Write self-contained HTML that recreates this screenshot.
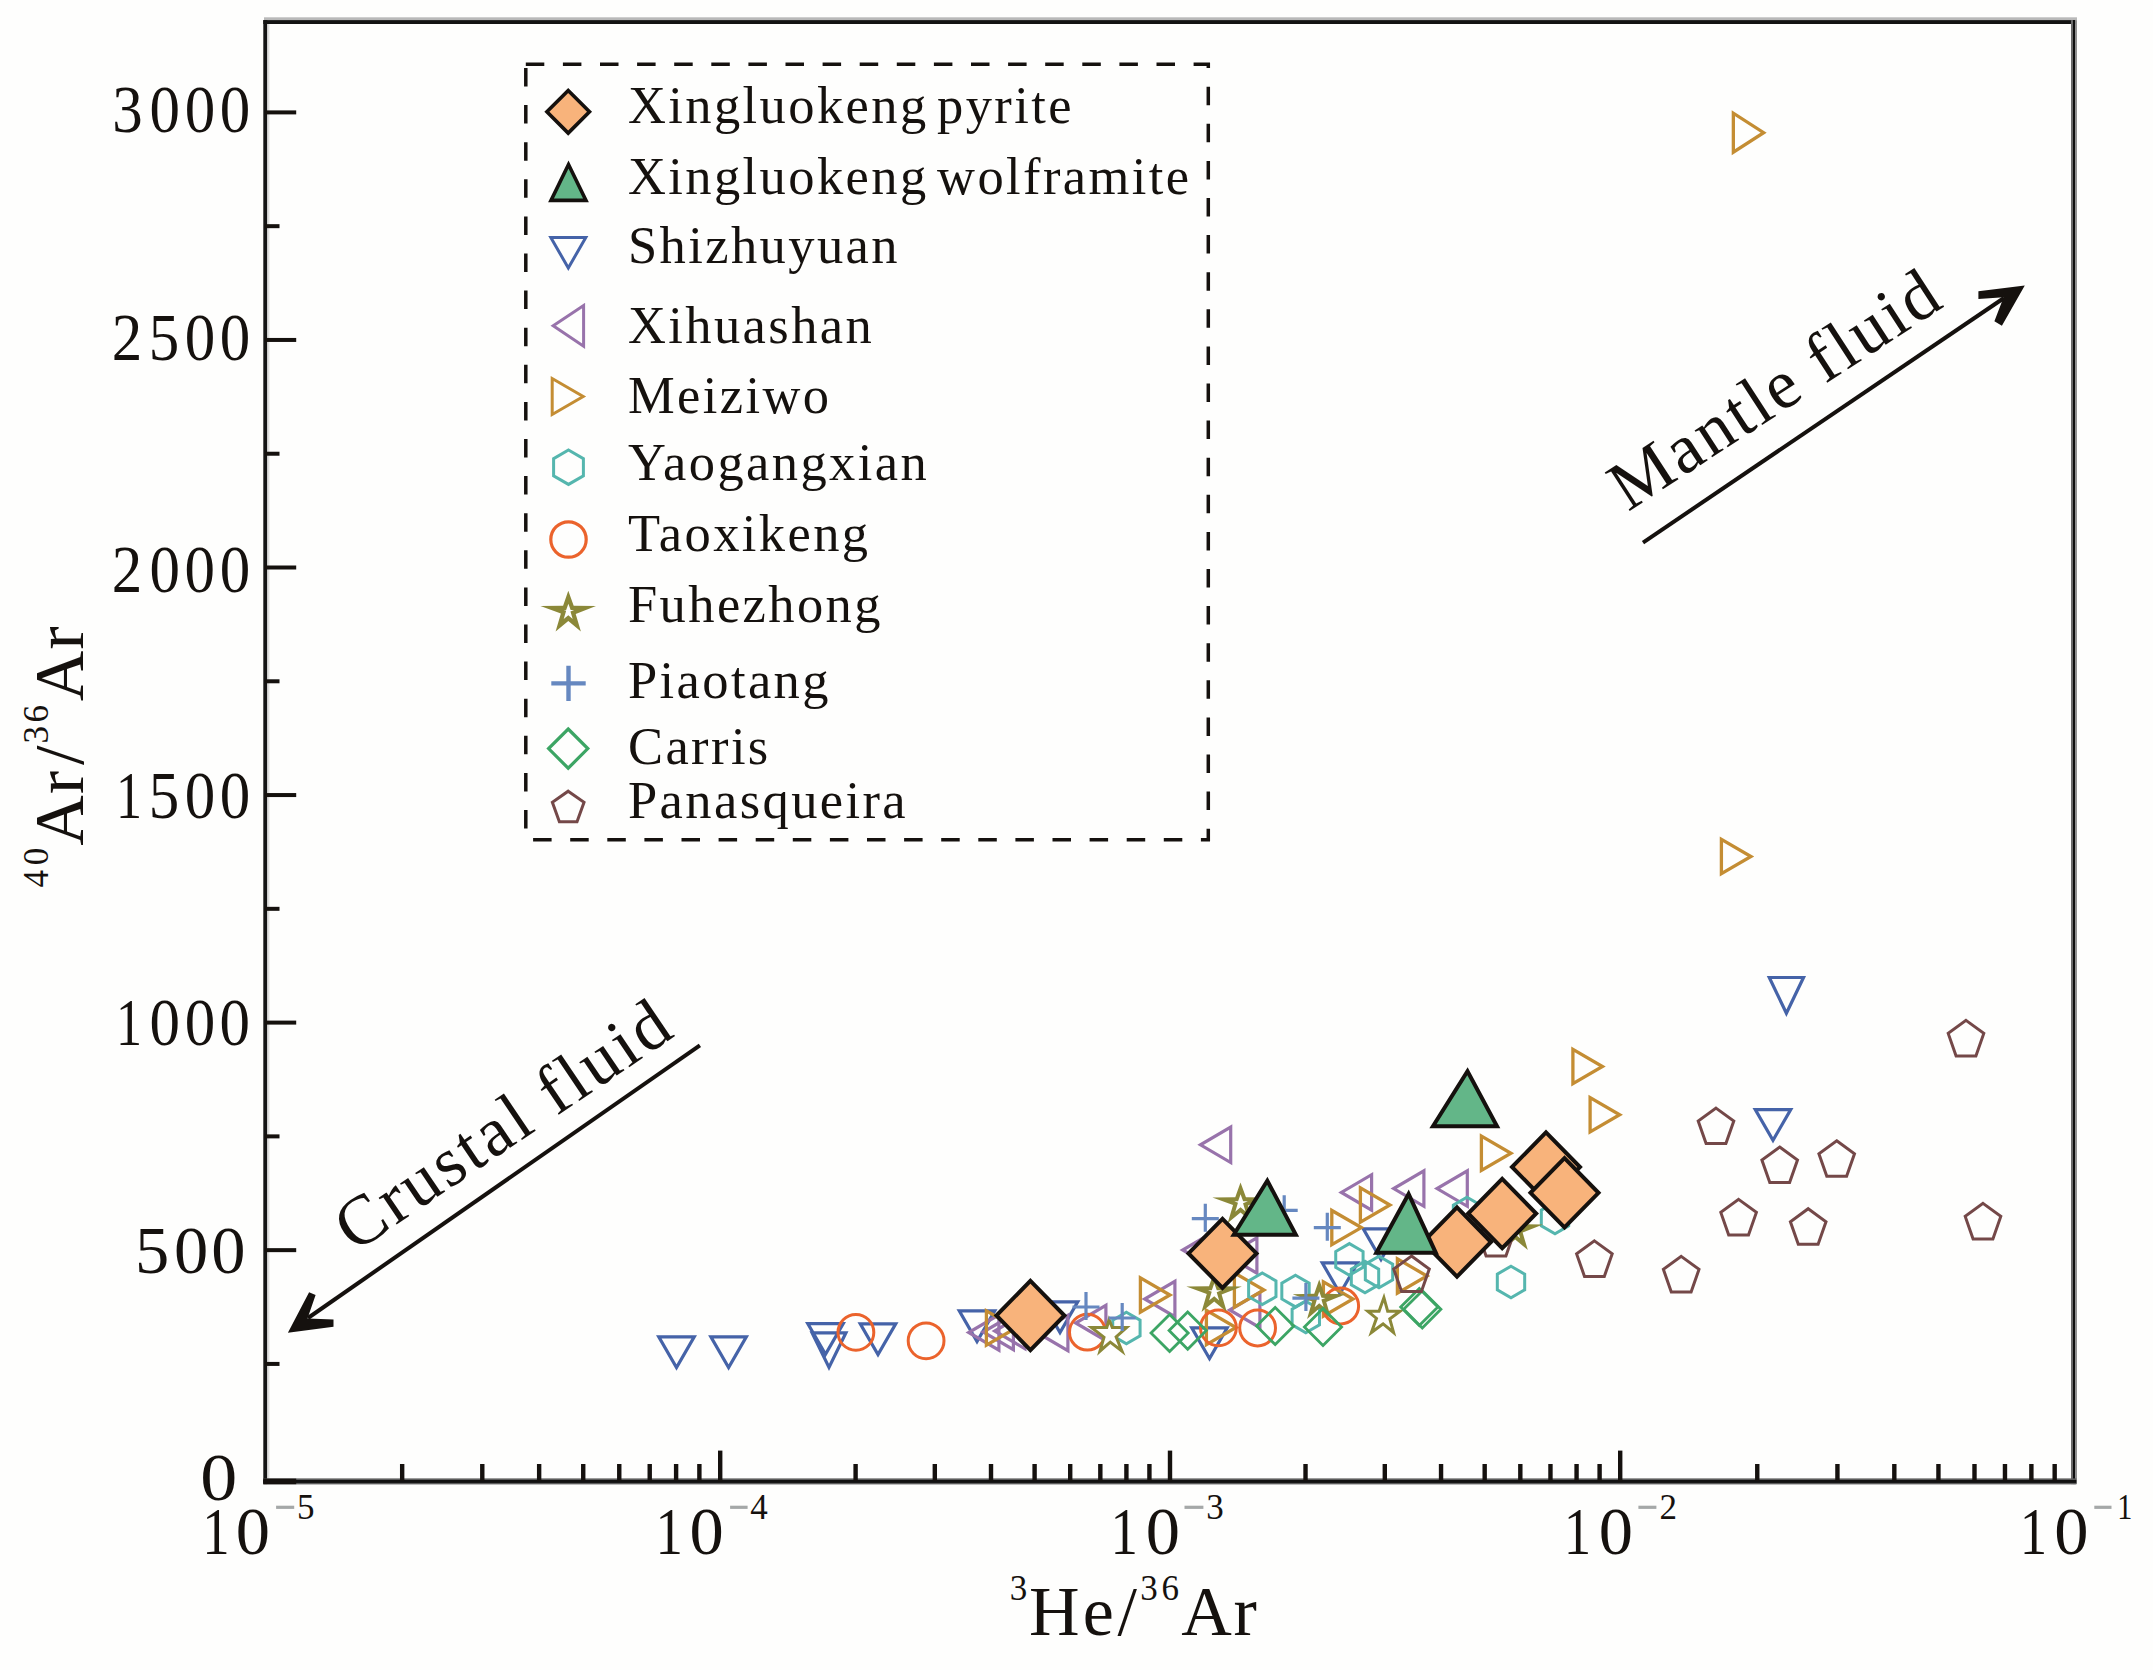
<!DOCTYPE html>
<html><head><meta charset="utf-8"><title>40Ar/36Ar vs 3He/36Ar</title>
<style>html,body{margin:0;padding:0;background:#fefefd;}svg{display:block;}text{font-family:'Liberation Serif', 'Times New Roman', serif;fill:#15110e;}</style></head><body>
<svg xmlns="http://www.w3.org/2000/svg" width="2153" height="1670" viewBox="0 0 2153 1670">
<rect width="2153" height="1670" fill="#fefefd"/>
<g stroke-linejoin="miter" stroke-miterlimit="10">
<polygon points="658.77,1336.85 694.23,1336.85 676.5,1367.55" fill="none" stroke="#4563a8" stroke-width="3.2"/>
<polygon points="710.87,1336.85 746.33,1336.85 728.6,1367.55" fill="none" stroke="#4563a8" stroke-width="3.2"/>
<polygon points="807.77,1323.55 843.23,1323.55 825.5,1354.25" fill="none" stroke="#4563a8" stroke-width="3.2"/>
<polygon points="812.07,1332.8 845.93,1332.8 829,1367.36" fill="none" stroke="#4563a8" stroke-width="3.2"/>
<polygon points="860.27,1323.85 895.73,1323.85 878,1354.55" fill="none" stroke="#4563a8" stroke-width="3.2"/>
<polygon points="959.27,1310.85 994.73,1310.85 977,1341.55" fill="none" stroke="#4563a8" stroke-width="3.2"/>
<polygon points="1042.27,1301.85 1077.73,1301.85 1060,1332.55" fill="none" stroke="#4563a8" stroke-width="3.2"/>
<polygon points="1191.77,1327.85 1227.23,1327.85 1209.5,1358.55" fill="none" stroke="#4563a8" stroke-width="3.2"/>
<polygon points="1322.27,1262.85 1357.73,1262.85 1340,1293.55" fill="none" stroke="#4563a8" stroke-width="3.2"/>
<polygon points="1363.27,1228.85 1398.73,1228.85 1381,1259.55" fill="none" stroke="#4563a8" stroke-width="3.2"/>
<polygon points="1755.27,1109.55 1790.73,1109.55 1773,1140.25" fill="none" stroke="#4563a8" stroke-width="3.2"/>
<polygon points="1769.29,977.5 1803.51,977.5 1786.4,1013.2" fill="none" stroke="#4563a8" stroke-width="3.2"/>
<polygon points="998.9,1314.79 998.9,1350.21 968.67,1332.5" fill="none" stroke="#9873ab" stroke-width="3.2"/>
<polygon points="1013.4,1314.29 1013.4,1349.71 983.17,1332" fill="none" stroke="#9873ab" stroke-width="3.2"/>
<polygon points="1024.9,1313.29 1024.9,1348.71 994.67,1331" fill="none" stroke="#9873ab" stroke-width="3.2"/>
<polygon points="1067.9,1315.29 1067.9,1350.71 1037.67,1333" fill="none" stroke="#9873ab" stroke-width="3.2"/>
<polygon points="1105.9,1305.29 1105.9,1340.71 1075.67,1323" fill="none" stroke="#9873ab" stroke-width="3.2"/>
<polygon points="1174.9,1281.29 1174.9,1316.71 1144.67,1299" fill="none" stroke="#9873ab" stroke-width="3.2"/>
<polygon points="1212.9,1232.29 1212.9,1267.71 1182.67,1250" fill="none" stroke="#9873ab" stroke-width="3.2"/>
<polygon points="1256.9,1237.79 1256.9,1273.21 1226.67,1255.5" fill="none" stroke="#9873ab" stroke-width="3.2"/>
<polygon points="1259.9,1292.29 1259.9,1327.71 1229.67,1310" fill="none" stroke="#9873ab" stroke-width="3.2"/>
<polygon points="1230.7,1127.09 1230.7,1162.51 1200.47,1144.8" fill="none" stroke="#9873ab" stroke-width="3.2"/>
<polygon points="1371.6,1174.69 1371.6,1210.11 1341.37,1192.4" fill="none" stroke="#9873ab" stroke-width="3.2"/>
<polygon points="1423.9,1170.89 1423.9,1206.31 1393.67,1188.6" fill="none" stroke="#9873ab" stroke-width="3.2"/>
<polygon points="1467.3,1170.89 1467.3,1206.31 1437.07,1188.6" fill="none" stroke="#9873ab" stroke-width="3.2"/>
<polygon points="986.4,1310.86 986.4,1345.14 1015.96,1328" fill="none" stroke="#c48d33" stroke-width="3.3"/>
<polygon points="1140.4,1277.86 1140.4,1312.14 1169.96,1295" fill="none" stroke="#c48d33" stroke-width="3.3"/>
<polygon points="1206.4,1310.36 1206.4,1344.64 1235.96,1327.5" fill="none" stroke="#c48d33" stroke-width="3.3"/>
<polygon points="1234.4,1272.86 1234.4,1307.14 1263.96,1290" fill="none" stroke="#c48d33" stroke-width="3.3"/>
<polygon points="1323.4,1281.86 1323.4,1316.14 1352.96,1299" fill="none" stroke="#c48d33" stroke-width="3.3"/>
<polygon points="1331.8,1210.46 1331.8,1244.74 1361.36,1227.6" fill="none" stroke="#c48d33" stroke-width="3.3"/>
<polygon points="1360.4,1187.86 1360.4,1222.14 1389.96,1205" fill="none" stroke="#c48d33" stroke-width="3.3"/>
<polygon points="1397.4,1258.86 1397.4,1293.14 1426.96,1276" fill="none" stroke="#c48d33" stroke-width="3.3"/>
<polygon points="1481.4,1136.16 1481.4,1170.44 1510.96,1153.3" fill="none" stroke="#c48d33" stroke-width="3.3"/>
<polygon points="1572.9,1049.36 1572.9,1083.64 1602.46,1066.5" fill="none" stroke="#c48d33" stroke-width="3.3"/>
<polygon points="1590.1,1097.56 1590.1,1131.84 1619.66,1114.7" fill="none" stroke="#c48d33" stroke-width="3.3"/>
<polygon points="1721.4,839.36 1721.4,873.64 1750.96,856.5" fill="none" stroke="#c48d33" stroke-width="3.3"/>
<polygon points="1733.35,113.22 1733.35,152.18 1763.65,132.7" fill="none" stroke="#c48d33" stroke-width="3.3"/>
<polygon points="1126.4,1312.2 1140.08,1320.1 1140.08,1335.9 1126.4,1343.8 1112.72,1335.9 1112.72,1320.1" fill="none" stroke="#55b6ae" stroke-width="3"/>
<polygon points="1262.3,1273 1275.98,1280.9 1275.98,1296.7 1262.3,1304.6 1248.62,1296.7 1248.62,1280.9" fill="none" stroke="#55b6ae" stroke-width="3"/>
<polygon points="1295.5,1275.3 1309.18,1283.2 1309.18,1299 1295.5,1306.9 1281.82,1299 1281.82,1283.2" fill="none" stroke="#55b6ae" stroke-width="3"/>
<polygon points="1305.8,1301.2 1319.48,1309.1 1319.48,1324.9 1305.8,1332.8 1292.12,1324.9 1292.12,1309.1" fill="none" stroke="#55b6ae" stroke-width="3"/>
<polygon points="1349.4,1243.6 1363.08,1251.5 1363.08,1267.3 1349.4,1275.2 1335.72,1267.3 1335.72,1251.5" fill="none" stroke="#55b6ae" stroke-width="3"/>
<polygon points="1365,1261.2 1378.68,1269.1 1378.68,1284.9 1365,1292.8 1351.32,1284.9 1351.32,1269.1" fill="none" stroke="#55b6ae" stroke-width="3"/>
<polygon points="1379,1256.2 1392.68,1264.1 1392.68,1279.9 1379,1287.8 1365.32,1279.9 1365.32,1264.1" fill="none" stroke="#55b6ae" stroke-width="3"/>
<polygon points="1511,1266.2 1524.68,1274.1 1524.68,1289.9 1511,1297.8 1497.32,1289.9 1497.32,1274.1" fill="none" stroke="#55b6ae" stroke-width="3"/>
<polygon points="1555,1202.2 1568.68,1210.1 1568.68,1225.9 1555,1233.8 1541.32,1225.9 1541.32,1210.1" fill="none" stroke="#55b6ae" stroke-width="3"/>
<polygon points="1467,1197.2 1480.68,1205.1 1480.68,1220.9 1467,1228.8 1453.32,1220.9 1453.32,1205.1" fill="none" stroke="#55b6ae" stroke-width="3"/>
<circle cx="855.9" cy="1332.4" r="17.9" fill="none" stroke="#eb632c" stroke-width="3"/>
<circle cx="926.1" cy="1340.8" r="17.9" fill="none" stroke="#eb632c" stroke-width="3"/>
<circle cx="1087.4" cy="1332.2" r="17.9" fill="none" stroke="#eb632c" stroke-width="3"/>
<circle cx="1218.4" cy="1327.8" r="17.9" fill="none" stroke="#eb632c" stroke-width="3"/>
<circle cx="1257.6" cy="1328" r="17.9" fill="none" stroke="#eb632c" stroke-width="3"/>
<circle cx="1340.7" cy="1306" r="17.9" fill="none" stroke="#eb632c" stroke-width="3"/>
<polygon points="1108.8,1315.2 1113.29,1326.1 1130.6,1326.1 1117.92,1337.31 1125.5,1355.7 1110.31,1344.02 1097.1,1355.7 1102.26,1337.83 1087,1326.1 1105.65,1326.1" fill="#8b8838"/>
<polygon points="1109.3,1324.28 1111.29,1329.1 1122.67,1329.1 1114.33,1336.47 1118.46,1346.51 1110.18,1340.14 1102.85,1346.62 1105.71,1336.7 1095.82,1329.1 1107.91,1329.1" fill="#fefefd"/>
<polygon points="1240.5,1182.4 1245.94,1197.3 1268.4,1197.6 1247.95,1205.6 1253.19,1223.1 1240.5,1212.5 1227.71,1223.1 1233.05,1205.1 1212.4,1197.6 1235.26,1197.3" fill="#8b8838"/>
<polygon points="1240.57,1194.26 1243.13,1201.26 1247.9,1201.33 1243.06,1203.22 1245.54,1211.5 1240.51,1207.3 1235.28,1211.63 1237.95,1202.63 1234.34,1201.31 1238.11,1201.26" fill="#fefefd"/>
<polygon points="1214.2,1271.4 1219.6,1286.3 1241.9,1286.6 1221.6,1294.6 1226.8,1312.1 1214.2,1301.5 1201.5,1312.1 1206.8,1294.1 1186.3,1286.6 1209,1286.3" fill="#8b8838"/>
<polygon points="1214.27,1283.34 1216.78,1290.26 1221.53,1290.33 1216.72,1292.22 1219.17,1300.45 1214.21,1296.28 1209.06,1300.58 1211.7,1291.63 1208.09,1290.31 1211.85,1290.26" fill="#fefefd"/>
<polygon points="1319.2,1279.4 1324.35,1293.86 1345.6,1294.15 1326.25,1301.92 1331.21,1318.9 1319.2,1308.61 1307.09,1318.9 1312.15,1301.43 1292.6,1294.15 1314.24,1293.86" fill="#8b8838"/>
<polygon points="1319.27,1291.53 1321.51,1297.82 1325.58,1297.88 1321.4,1299.55 1323.61,1307.12 1319.21,1303.35 1314.63,1307.25 1317.02,1298.98 1314.03,1297.86 1317.11,1297.82" fill="#fefefd"/>
<polygon points="1384.1,1292.7 1388.81,1309.7 1404.6,1309.7 1391.51,1319.43 1396.3,1336.7 1383.03,1325.74 1368.3,1336.7 1374.7,1318.87 1363.6,1309.7 1378,1309.7" fill="#8b8838"/>
<polygon points="1383.73,1302.6 1386.53,1312.7 1395.54,1312.7 1388.07,1318.25 1390.86,1328.32 1383.13,1321.93 1374.48,1328.36 1378.24,1317.9 1371.95,1312.7 1380.11,1312.7" fill="#fefefd"/>
<polygon points="1515.2,1209.3 1520.6,1224.2 1542.9,1224.5 1522.6,1232.5 1527.8,1250 1515.2,1239.4 1502.5,1250 1507.8,1232 1487.3,1224.5 1510,1224.2" fill="#8b8838"/>
<polygon points="1515.27,1221.24 1517.78,1228.16 1522.53,1228.23 1517.72,1230.12 1520.17,1238.35 1515.21,1234.18 1510.06,1238.48 1512.7,1229.53 1509.09,1228.21 1512.85,1228.16" fill="#fefefd"/>
<path d="M1072.5 1307H1099.5M1086 1292V1320" stroke="#6688c0" stroke-width="3.2" fill="none"/>
<path d="M1108.7 1318H1135.7M1122.2 1303V1331" stroke="#6688c0" stroke-width="3.2" fill="none"/>
<path d="M1191.8 1218.7H1218.8M1205.3 1203.7V1231.7" stroke="#6688c0" stroke-width="3.2" fill="none"/>
<path d="M1270.7 1210.3H1297.7M1284.2 1195.3V1223.3" stroke="#6688c0" stroke-width="3.2" fill="none"/>
<path d="M1313.8 1227.7H1340.8M1327.3 1212.7V1240.7" stroke="#6688c0" stroke-width="3.2" fill="none"/>
<path d="M1292.4 1298.1H1319.4M1305.9 1283.1V1311.1" stroke="#6688c0" stroke-width="3.2" fill="none"/>
<polygon points="1169.6,1314.4 1188.2,1333 1169.6,1351.6 1151,1333" fill="none" stroke="#3ca564" stroke-width="2.8"/>
<polygon points="1187.7,1312 1206.3,1330.6 1187.7,1349.2 1169.1,1330.6" fill="none" stroke="#3ca564" stroke-width="2.8"/>
<polygon points="1275.2,1307.4 1293.8,1326 1275.2,1344.6 1256.6,1326" fill="none" stroke="#3ca564" stroke-width="2.8"/>
<polygon points="1323,1308.4 1341.6,1327 1323,1345.6 1304.4,1327" fill="none" stroke="#3ca564" stroke-width="2.8"/>
<polygon points="1419.3,1288.4 1437.9,1307 1419.3,1325.6 1400.7,1307" fill="none" stroke="#3ca564" stroke-width="2.8"/>
<polygon points="1422.3,1290.7 1440.9,1309.3 1422.3,1327.9 1403.7,1309.3" fill="none" stroke="#3ca564" stroke-width="2.8"/>
<polygon points="1411.5,1256 1429.3,1269 1421.4,1291.5 1401.6,1291.5 1393.7,1269" fill="none" stroke="#744848" stroke-width="3"/>
<polygon points="1496,1220.4 1513.8,1233.4 1505.9,1255.9 1486.1,1255.9 1478.2,1233.4" fill="none" stroke="#744848" stroke-width="3"/>
<polygon points="1594.4,1240.9 1612.2,1253.9 1604.3,1276.4 1584.5,1276.4 1576.6,1253.9" fill="none" stroke="#744848" stroke-width="3"/>
<polygon points="1681.2,1256.4 1699,1269.4 1691.1,1291.9 1671.3,1291.9 1663.4,1269.4" fill="none" stroke="#744848" stroke-width="3"/>
<polygon points="1716,1108.1 1733.8,1121.1 1725.9,1143.6 1706.1,1143.6 1698.2,1121.1" fill="none" stroke="#744848" stroke-width="3"/>
<polygon points="1738.6,1199.4 1756.4,1212.4 1748.5,1234.9 1728.7,1234.9 1720.8,1212.4" fill="none" stroke="#744848" stroke-width="3"/>
<polygon points="1779.7,1147 1797.5,1160 1789.6,1182.5 1769.8,1182.5 1761.9,1160" fill="none" stroke="#744848" stroke-width="3"/>
<polygon points="1808.2,1208.7 1826,1221.7 1818.1,1244.2 1798.3,1244.2 1790.4,1221.7" fill="none" stroke="#744848" stroke-width="3"/>
<polygon points="1836.7,1140.8 1854.5,1153.8 1846.6,1176.3 1826.8,1176.3 1818.9,1153.8" fill="none" stroke="#744848" stroke-width="3"/>
<polygon points="1966,1020.4 1983.8,1033.4 1975.9,1055.9 1956.1,1055.9 1948.2,1033.4" fill="none" stroke="#744848" stroke-width="3"/>
<polygon points="1983,1203.4 2000.8,1216.4 1992.9,1238.9 1973.1,1238.9 1965.2,1216.4" fill="none" stroke="#744848" stroke-width="3"/>
<polygon points="1030.4,1280.9 1064.4,1315.5 1030.4,1350.1 996.4,1315.5" fill="#f8b37b" stroke="#15110e" stroke-width="4"/>
<polygon points="1222.5,1218.8 1256.5,1253.4 1222.5,1288 1188.5,1253.4" fill="#f8b37b" stroke="#15110e" stroke-width="4"/>
<polygon points="1457,1207.4 1491,1242 1457,1276.6 1423,1242" fill="#f8b37b" stroke="#15110e" stroke-width="4"/>
<polygon points="1502.2,1178.9 1536.2,1213.5 1502.2,1248.1 1468.2,1213.5" fill="#f8b37b" stroke="#15110e" stroke-width="4"/>
<polygon points="1546,1132.4 1580,1167 1546,1201.6 1512,1167" fill="#f8b37b" stroke="#15110e" stroke-width="4"/>
<polygon points="1564.5,1158.2 1598.5,1192.8 1564.5,1227.4 1530.5,1192.8" fill="#f8b37b" stroke="#15110e" stroke-width="4"/>
<polygon points="1432.98,1126.3 1497.02,1126.3 1467.5,1071.28" fill="#63b688" stroke="#15110e" stroke-width="4"/>
<polygon points="1233.76,1234.7 1295.84,1234.7 1267.3,1180.71" fill="#63b688" stroke="#15110e" stroke-width="4"/>
<polygon points="1376.35,1252.85 1435.85,1252.85 1408.6,1193.98" fill="#63b688" stroke="#15110e" stroke-width="4"/>
</g>
<rect x="264" y="17.3" width="1813" height="2.8" fill="#b9b9b9"/>
<rect x="263.3" y="20.1" width="1812" height="3.9" fill="#131313"/>
<rect x="263.3" y="20.1" width="3.9" height="1464" fill="#141414"/>
<rect x="267.2" y="24" width="2.2" height="1455" fill="#c8c8c8" opacity="0.6"/>
<rect x="2071" y="20.1" width="2" height="1464" fill="#6a6a6a"/>
<rect x="2073" y="20.1" width="2.1" height="1464" fill="#0f0f0f"/>
<rect x="2075.1" y="20.1" width="1.8" height="1464" fill="#858585"/>
<rect x="263.3" y="1478.4" width="1813" height="6" fill="#5c5c5c"/>
<rect x="263.3" y="1480" width="1813" height="2.9" fill="#111"/>
<rect x="265" y="1248.15" width="31.2" height="4" fill="#15110e"/>
<rect x="265" y="1020.6" width="31.2" height="4" fill="#15110e"/>
<rect x="265" y="793.05" width="31.2" height="4" fill="#15110e"/>
<rect x="265" y="565.5" width="31.2" height="4" fill="#15110e"/>
<rect x="265" y="337.95" width="31.2" height="4" fill="#15110e"/>
<rect x="265" y="110.4" width="31.2" height="4" fill="#15110e"/>
<rect x="263.3" y="1478.6" width="32.9" height="5.6" fill="#15110e"/>
<rect x="265" y="1361.92" width="14.5" height="4" fill="#15110e"/>
<rect x="265" y="1134.38" width="14.5" height="4" fill="#15110e"/>
<rect x="265" y="906.83" width="14.5" height="4" fill="#15110e"/>
<rect x="265" y="679.28" width="14.5" height="4" fill="#15110e"/>
<rect x="265" y="451.73" width="14.5" height="4" fill="#15110e"/>
<rect x="265" y="224.17" width="14.5" height="4" fill="#15110e"/>
<rect x="718" y="1450.6" width="4.4" height="31" fill="#15110e"/>
<rect x="1167.8" y="1450.6" width="4.4" height="31" fill="#15110e"/>
<rect x="1618" y="1450.6" width="4.4" height="31" fill="#15110e"/>
<rect x="399.97" y="1464" width="4.4" height="17" fill="#15110e"/>
<rect x="480.09" y="1464" width="4.4" height="17" fill="#15110e"/>
<rect x="536.94" y="1464" width="4.4" height="17" fill="#15110e"/>
<rect x="581.03" y="1464" width="4.4" height="17" fill="#15110e"/>
<rect x="617.06" y="1464" width="4.4" height="17" fill="#15110e"/>
<rect x="647.52" y="1464" width="4.4" height="17" fill="#15110e"/>
<rect x="673.91" y="1464" width="4.4" height="17" fill="#15110e"/>
<rect x="697.18" y="1464" width="4.4" height="17" fill="#15110e"/>
<rect x="853.4" y="1464" width="4.4" height="17" fill="#15110e"/>
<rect x="932.61" y="1464" width="4.4" height="17" fill="#15110e"/>
<rect x="988.81" y="1464" width="4.4" height="17" fill="#15110e"/>
<rect x="1032.4" y="1464" width="4.4" height="17" fill="#15110e"/>
<rect x="1068.01" y="1464" width="4.4" height="17" fill="#15110e"/>
<rect x="1098.13" y="1464" width="4.4" height="17" fill="#15110e"/>
<rect x="1124.21" y="1464" width="4.4" height="17" fill="#15110e"/>
<rect x="1147.22" y="1464" width="4.4" height="17" fill="#15110e"/>
<rect x="1303.32" y="1464" width="4.4" height="17" fill="#15110e"/>
<rect x="1382.6" y="1464" width="4.4" height="17" fill="#15110e"/>
<rect x="1438.85" y="1464" width="4.4" height="17" fill="#15110e"/>
<rect x="1482.48" y="1464" width="4.4" height="17" fill="#15110e"/>
<rect x="1518.12" y="1464" width="4.4" height="17" fill="#15110e"/>
<rect x="1548.26" y="1464" width="4.4" height="17" fill="#15110e"/>
<rect x="1574.37" y="1464" width="4.4" height="17" fill="#15110e"/>
<rect x="1597.4" y="1464" width="4.4" height="17" fill="#15110e"/>
<rect x="1755.06" y="1464" width="4.4" height="17" fill="#15110e"/>
<rect x="1835.23" y="1464" width="4.4" height="17" fill="#15110e"/>
<rect x="1892.12" y="1464" width="4.4" height="17" fill="#15110e"/>
<rect x="1936.24" y="1464" width="4.4" height="17" fill="#15110e"/>
<rect x="1972.29" y="1464" width="4.4" height="17" fill="#15110e"/>
<rect x="2002.77" y="1464" width="4.4" height="17" fill="#15110e"/>
<rect x="2029.18" y="1464" width="4.4" height="17" fill="#15110e"/>
<rect x="2052.47" y="1464" width="4.4" height="17" fill="#15110e"/>
<text x="0" y="0" font-size="68.5" transform="translate(112.2 131.9) scale(0.89 1)">3</text><text x="0" y="0" font-size="68.5" transform="translate(149.49 131.9) scale(0.89 1)">0</text><text x="0" y="0" font-size="68.5" transform="translate(184.79 131.9) scale(0.89 1)">0</text><text x="0" y="0" font-size="68.5" transform="translate(219.69 131.9) scale(0.89 1)">0</text>
<text x="0" y="0" font-size="68.5" transform="translate(111.74 359.6) scale(0.89 1)">2</text><text x="0" y="0" font-size="68.5" transform="translate(148.68 359.6) scale(0.89 1)">5</text><text x="0" y="0" font-size="68.5" transform="translate(184.79 359.6) scale(0.89 1)">0</text><text x="0" y="0" font-size="68.5" transform="translate(219.69 359.6) scale(0.89 1)">0</text>
<text x="0" y="0" font-size="68.5" transform="translate(111.74 592) scale(0.89 1)">2</text><text x="0" y="0" font-size="68.5" transform="translate(149.49 592) scale(0.89 1)">0</text><text x="0" y="0" font-size="68.5" transform="translate(184.39 592) scale(0.89 1)">0</text><text x="0" y="0" font-size="68.5" transform="translate(219.69 592) scale(0.89 1)">0</text>
<text x="0" y="0" font-size="68.5" transform="translate(115.92 817.8) scale(0.76 1)">1</text><text x="0" y="0" font-size="68.5" transform="translate(148.68 817.8) scale(0.89 1)">5</text><text x="0" y="0" font-size="68.5" transform="translate(184.79 817.8) scale(0.89 1)">0</text><text x="0" y="0" font-size="68.5" transform="translate(219.69 817.8) scale(0.89 1)">0</text>
<text x="0" y="0" font-size="68.5" transform="translate(115.92 1045.1) scale(0.76 1)">1</text><text x="0" y="0" font-size="68.5" transform="translate(149.49 1045.1) scale(0.89 1)">0</text><text x="0" y="0" font-size="68.5" transform="translate(184.69 1045.1) scale(0.89 1)">0</text><text x="0" y="0" font-size="68.5" transform="translate(219.49 1045.1) scale(0.89 1)">0</text>
<text x="135.12" y="1273.3" font-size="68.5">5</text><text x="173.89" y="1273.3" font-size="68.5">0</text><text x="211.29" y="1273.3" font-size="68.5">0</text>
<text x="0" y="0" font-size="68.5" transform="translate(200.18 1500.2) scale(1.08 1)">0</text>
<text x="0" y="0" font-size="68.5" transform="translate(202.18 1553.6) scale(0.8 1)">1</text><text x="235.79" y="1553.6" font-size="68.5">0</text>
<rect x="276.1" y="1505.7" width="18.1" height="3.2" fill="#a5a8a8"/>
<text x="296.97" y="1519.4" font-size="35">5</text>
<text x="0" y="0" font-size="68.5" transform="translate(655.58 1553.6) scale(0.8 1)">1</text><text x="689.49" y="1553.6" font-size="68.5">0</text>
<rect x="730.1" y="1505.7" width="17.5" height="3.2" fill="#a5a8a8"/>
<text x="750.32" y="1519.4" font-size="35">4</text>
<text x="0" y="0" font-size="68.5" transform="translate(1110.48 1553.6) scale(0.8 1)">1</text><text x="1145.79" y="1553.6" font-size="68.5">0</text>
<rect x="1184.5" y="1505.7" width="18.9" height="3.2" fill="#a5a8a8"/>
<text x="1206.23" y="1519.4" font-size="35">3</text>
<text x="0" y="0" font-size="68.5" transform="translate(1563.78 1553.6) scale(0.8 1)">1</text><text x="1598.69" y="1553.6" font-size="68.5">0</text>
<rect x="1638.4" y="1505.7" width="18" height="3.2" fill="#a5a8a8"/>
<text x="1659.56" y="1519.4" font-size="35">2</text>
<text x="0" y="0" font-size="68.5" transform="translate(2019.68 1553.6) scale(0.8 1)">1</text><text x="2054.19" y="1553.6" font-size="68.5">0</text>
<rect x="2094.3" y="1505.7" width="17.2" height="3.2" fill="#a5a8a8"/>
<text x="0" y="0" font-size="35" transform="translate(2117.15 1519.4) scale(0.86 1)">1</text>
<text x="1009.73" y="1599.6" font-size="35">3</text>
<text x="1028.98 1082.77 1117.5" y="1634.6" font-size="70">He/</text>
<text x="1140.33 1161.5" y="1599.6" font-size="35">36</text>
<text x="1181.32 1233.5" y="1634.6" font-size="70">Ar</text>
<g transform="translate(82.6 887) rotate(-90)">
<text x="-0.38 21.67" y="-34.8" font-size="35">40</text>
<text x="41.32 92.7 122" y="0" font-size="70">Ar/</text>
<text x="143.53 164.5" y="-34.8" font-size="35">36</text>
<text x="185.72 237.2" y="0" font-size="70">Ar</text>
</g>
<rect x="525.8" y="64.3" width="682.5" height="775.5" fill="none" stroke="#15110e" stroke-width="3.5" stroke-dasharray="18.5 18.6"/>
<text x="628" y="122.9" font-size="52.5" letter-spacing="2.4" word-spacing="-7">Xingluokeng pyrite</text>
<text x="628" y="193.8" font-size="52.5" letter-spacing="2.4" word-spacing="-7">Xingluokeng wolframite</text>
<text x="628" y="263.4" font-size="52.5" letter-spacing="2.4">Shizhuyuan</text>
<text x="628" y="342.6" font-size="52.5" letter-spacing="2.4">Xihuashan</text>
<text x="628" y="412.9" font-size="52.5" letter-spacing="2.4">Meiziwo</text>
<text x="628" y="479.5" font-size="52.5" letter-spacing="2.4">Yaogangxian</text>
<text x="628" y="551" font-size="52.5" letter-spacing="2.4">Taoxikeng</text>
<text x="628" y="622.3" font-size="52.5" letter-spacing="2.4">Fuhezhong</text>
<text x="628" y="697.6" font-size="52.5" letter-spacing="2.4">Piaotang</text>
<text x="628" y="763.8" font-size="52.5" letter-spacing="2.4">Carris</text>
<text x="628" y="818" font-size="52.5" letter-spacing="2.4">Panasqueira</text>
<g stroke-linejoin="miter" stroke-miterlimit="8">
<polygon points="568.2,90.5 589.5,111.8 568.2,133.1 546.9,111.8" fill="#f8b37b" stroke="#15110e" stroke-width="3.6"/>
<polygon points="568.5,164.5 586,200.4 551,200.4" fill="#63b688" stroke="#15110e" stroke-width="3.6"/>
<polygon points="550.8,237.4 585.8,237.4 568.3,268" fill="none" stroke="#4563a8" stroke-width="3"/>
<polygon points="583.6,305.5 583.6,346.2 553.2,325.8" fill="none" stroke="#9873ab" stroke-width="3"/>
<polygon points="552.2,378.5 552.2,414.5 583.2,396.5" fill="none" stroke="#c48d33" stroke-width="3"/>
<polygon points="568.5,450 583.4,458.6 583.4,475.8 568.5,484.4 553.6,475.8 553.6,458.6" fill="none" stroke="#55b6ae" stroke-width="3"/>
<circle cx="568.5" cy="539.5" r="17.7" fill="none" stroke="#eb632c" stroke-width="3.2"/>
<polygon points="568.3,590.8 573.7,605.7 596,606 575.7,614 580.9,631.5 568.3,620.9 555.6,631.5 560.9,613.5 540.4,606 563.1,605.7" fill="#8b8838"/>
<polygon points="568.38,603.63 570.67,609.96 574.11,610.01 570.46,611.45 572.69,618.98 568.31,615.29 563.73,619.11 566.16,610.85 563.82,609.99 566.17,609.96" fill="#fefefd"/>
<path d="M551.3 683.4H585.7M568.5 665.8V701" stroke="#6688c0" stroke-width="4.4" fill="none"/>
<polygon points="568.2,729 587.8,748.6 568.2,768.2 548.6,748.6" fill="none" stroke="#3ca564" stroke-width="3.2"/>
<polygon points="568.2,791.16 584.04,802.34 577.01,821.69 559.39,821.69 552.36,802.34" fill="none" stroke="#744848" stroke-width="3"/>
</g>
<line x1="1643" y1="542.6" x2="2004" y2="298" stroke="#15110e" stroke-width="4.0"/>
<polygon points="2024.8,285.5 1978.4,291.2 1978.4,298.9 2003.6,297.2 1994.4,321.3 2001.9,325.7" fill="#15110e"/>
<text x="0" y="0" font-size="70" letter-spacing="2.7" transform="translate(1628 512) rotate(-33)">Mantle fluid</text>
<line x1="699.9" y1="1045.4" x2="308" y2="1318" stroke="#15110e" stroke-width="4.0"/>
<polygon points="287.9,1332.8 309.1,1292.2 315.6,1295.1 307.5,1318.5 333.5,1319.5 333.5,1326.7" fill="#15110e"/>
<text x="0" y="0" font-size="70" letter-spacing="3" transform="translate(354.4 1253.2) rotate(-34.1)">Crustal fluid</text>
</svg></body></html>
